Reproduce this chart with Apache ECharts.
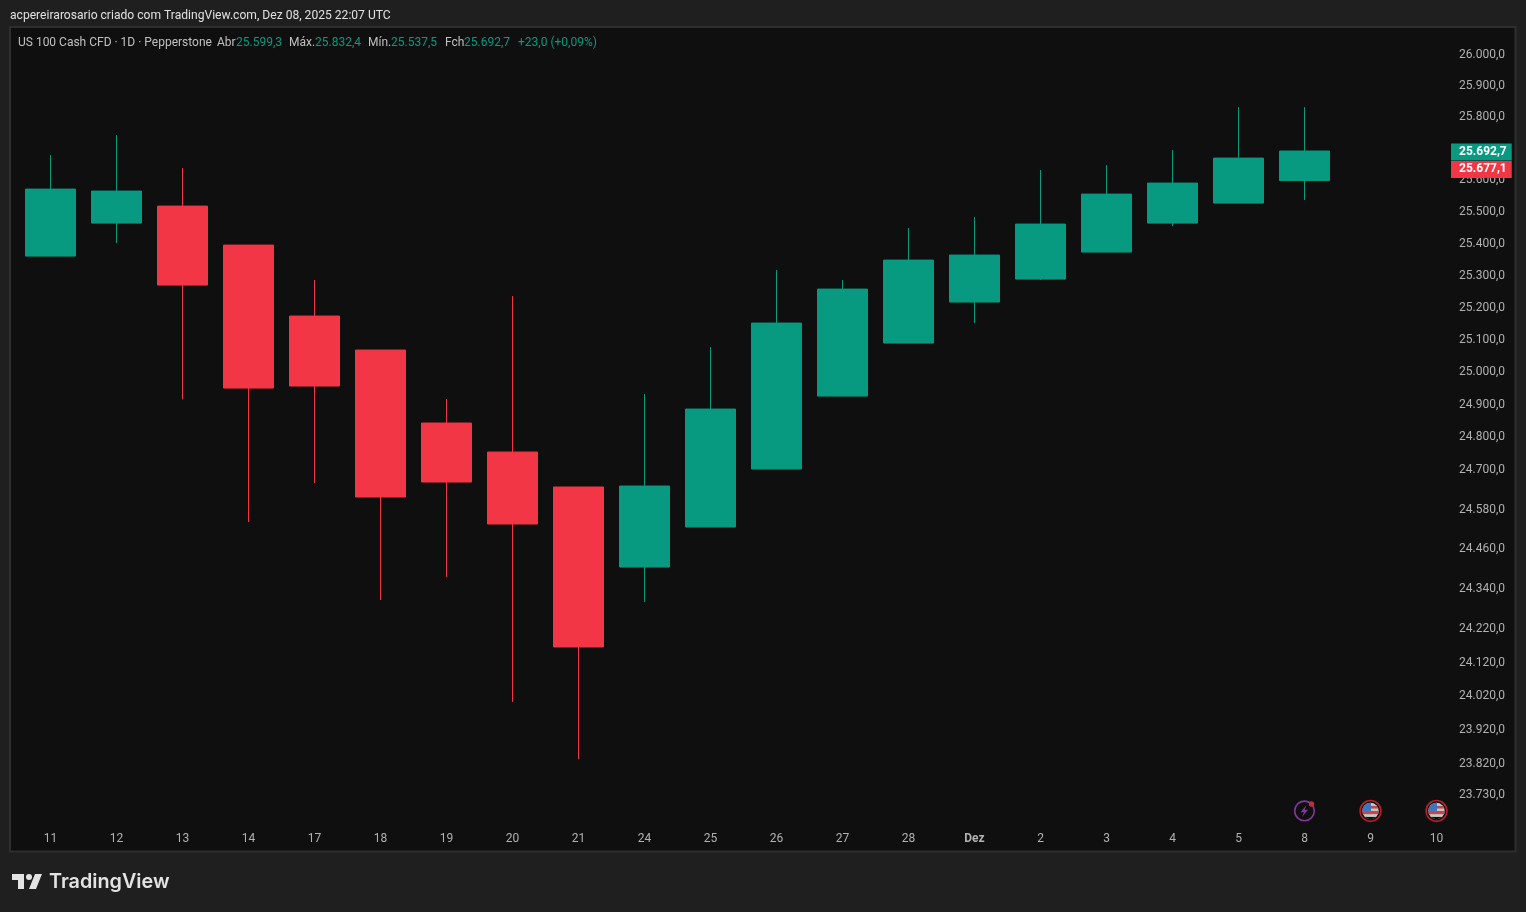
<!DOCTYPE html>
<html><head><meta charset="utf-8">
<style>html,body{margin:0;padding:0;background:#1f1f1f}#c{width:1526px;height:912px}</style>
<script src="https://cdn.jsdelivr.net/npm/echarts@6/dist/echarts.min.js"></script>
</head><body><div id="c"></div>
<script>
const days = ['11','12','13','14','17','18','19','20','21','24','25','26','27','28','Dez','2','3','4','5','8','9','10'];
const opens = [25361.5,25465.1,25518.6,25396.0,25174.4,25068.9,24844.0,24755.2,24648.5,24406.2,24527.1,24703.3,24926.9,25090.6,25217.9,25289.6,25374.1,25465.1,25528.0,25599.3];
const closes = [25572.2,25565.9,25270.9,24951.6,24957.8,24618.1,24663.7,24536.2,24166.4,24651.5,24887.0,25152.6,25258.4,25349.0,25364.7,25462.0,25556.4,25591.2,25670.3,25692.7];
const lows = [25361.5,25402.3,24917.7,24542.2,24660.7,24307.0,24376.2,24002.8,23834.5,24301.0,24527.1,24703.3,24926.9,25090.6,25152.6,25286.5,25374.1,25455.7,25528.0,25537.5];
const highs = [25679.8,25743.3,25638.6,25396.0,25286.5,25068.9,24917.7,25236.6,24648.5,24933.1,25078.2,25317.8,25286.5,25449.4,25484.0,25632.3,25648.1,25695.6,25832.4,25832.4];
const priceTicks = [26000,25900,25800,25600,25500,25400,25300,25200,25100,25000,24900,24800,24700,24580,24460,24340,24220,24120,24020,23920,23820,23730];
const lastClose = 25692.7, bidPrice = 25677.1;
const axisMin = 23638, axisMax = 26086;
const eventRow = 23682;

const FONT = 'Roboto';
const UP = '#089981', DOWN = '#F23645';
const fmt = v => {
  const s = v.toFixed(1).replace('.', ',');
  return s.replace(/^(\d+)(\d{3}),/, '$1.$2,');
};
const svg = s => 'image://data:image/svg+xml;charset=utf-8,' + encodeURIComponent(s);
const flag = svg('<svg xmlns="http://www.w3.org/2000/svg" width="48" height="48" viewBox="0 0 24 24"><defs><clipPath id="a"><circle cx="12" cy="12" r="8.2"/></clipPath></defs><circle cx="12" cy="12" r="10.4" fill="#111" stroke="#e0252f" stroke-width="1.6"/><g clip-path="url(#a)"><rect x="3" y="3" width="18" height="18" fill="#f5f5f5"/><rect x="3" y="12" width="18" height="3.2" fill="#f0565c"/><rect x="3" y="7" width="18" height="2.6" fill="#f0565c"/><rect x="3" y="18" width="18" height="3" fill="#111"/><rect x="3" y="3" width="9.5" height="9" fill="#4a8fe8"/></g></svg>');
const bolt = svg('<svg xmlns="http://www.w3.org/2000/svg" width="48" height="48" viewBox="0 0 24 24"><circle cx="12" cy="12" r="9.8" fill="none" stroke="#a03fc0" stroke-width="1.6"/><path d="M14 6 8 13.2h3.4L9.6 18l6-7.2h-3.4z" fill="#a03fc0"/><circle cx="19" cy="5" r="2.7" fill="#f23645"/></svg>');

const titleText = (text, left, top, color, size) => ({text, left, top, textStyle:{color, fontFamily:FONT, fontSize:size||12, fontWeight:'normal', lineHeight:14}, padding:0});
const GREY = '#c0c0c0';
const chart = echarts.init(document.getElementById('c'), null, {renderer:'canvas'});
chart.setOption({
  animation:false,
  backgroundColor:'#1f1f1f',
  title:[
    titleText('acpereirarosario criado com TradingView.com, Dez 08, 2025 22:07 UTC',10,9,'#e0e0e0',12.1),
    titleText('US 100 Cash CFD · 1D · Pepperstone',18,36,GREY),
    titleText('Abr',217,36,GREY), titleText(fmt(opens[19]),236,36,UP),
    titleText('Máx.',289,36,GREY), titleText(fmt(highs[19]),315,36,UP),
    titleText('Mín.',368,36,GREY), titleText(fmt(lows[19]),391,36,UP),
    titleText('Fch',445,36,GREY), titleText(fmt(closes[19]),464,36,UP),
    titleText('+23,0 (+0,09%)',518,36,UP)
  ],
  grid:{left:17.5,width:1452,top:28,height:798,containLabel:false},
  xAxis:{type:'category',data:days,position:'bottom',axisLine:{show:false},axisTick:{show:false},splitLine:{show:false},
    axisLabel:{interval:0,margin:7,color:'#b2b2b2',fontFamily:FONT,fontSize:12,
      formatter:v=>v==='Dez'?'{b|Dez}':v,rich:{b:{color:'#b2b2b2',fontFamily:FONT,fontSize:12,fontWeight:'bold'}}}},
  yAxis:{type:'log',logBase:10,min:axisMin,max:axisMax,position:'right',axisLine:{show:false},axisTick:{show:false},splitLine:{show:false},
    axisLabel:{show:true,customValues:priceTicks,margin:35.5,align:'right',padding:[1,0,0,0],color:'#b2b2b2',fontFamily:FONT,fontSize:12,formatter:v=>fmt(+v)}},
  graphic:[
    {type:'rect',z:-5,silent:true,shape:{x:10,y:27,width:1505.5,height:824.5},style:{fill:'#0f0f0f',stroke:'#2e2e2e',lineWidth:2}},
    {type:'polygon',silent:true,shape:{points:[[12,874],[24,874],[24,889],[18,889],[18,880],[12,880]]},style:{fill:'#e3e3e3'}},
    {type:'polygon',silent:true,shape:{points:[[35,874],[42,874],[36,889],[29,889]]},style:{fill:'#e3e3e3'}},
    {type:'circle',silent:true,shape:{cx:29,cy:877,r:3},style:{fill:'#e3e3e3'}},
    {type:'text',silent:true,x:49,y:872,style:{text:'TradingView',fill:'#e3e3e3',font:'600 19.8px Inter'}}
  ],
  series:[
    {type:'candlestick',barWidth:50,
     data:opens.map((o,i)=>[o,closes[i],lows[i],highs[i]]),
     itemStyle:{color:UP,color0:DOWN,borderColor:UP,borderColor0:DOWN,borderWidth:1},
     markLine:{silent:true,symbol:'none',animation:false,lineStyle:{color:'rgba(0,0,0,0)',width:0},
       data:[
         {yAxis:bidPrice,label:{show:true,position:'end',distance:-18.5,offset:[0,13.5],formatter:fmt(bidPrice),color:'#fff',backgroundColor:DOWN,fontFamily:FONT,fontSize:12,fontWeight:'bold',padding:[2,5,2,8],lineHeight:13}},
         {yAxis:lastClose,label:{show:true,position:'end',distance:-18.5,offset:[0,1],formatter:fmt(lastClose),color:'#fff',backgroundColor:UP,fontFamily:FONT,fontSize:12,fontWeight:'bold',padding:[2,5,2,8],lineHeight:13}}
       ]}},
    {type:'scatter',symbolSize:24,silent:true,z:5,data:[
      {value:['8',eventRow],symbol:bolt},{value:['9',eventRow],symbol:flag},{value:['10',eventRow],symbol:flag}]}
  ]
});
</script></body></html>
